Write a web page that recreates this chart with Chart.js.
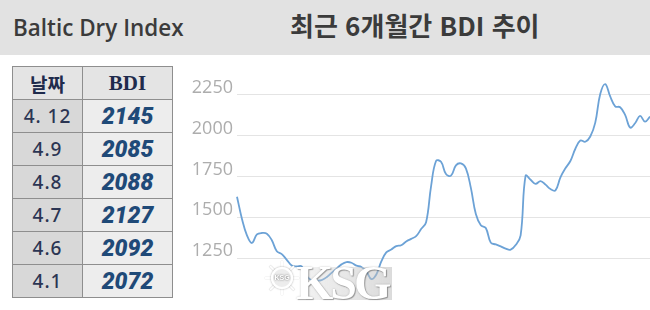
<!DOCTYPE html>
<html lang="ko">
<head>
<meta charset="UTF-8">
<title>최근 6개월간 BDI 추이</title>
<script src="https://cdn.jsdelivr.net/npm/chart.js"></script>
<style>
    body { margin: 0; width: 650px; height: 310px; background: #fff; position: relative; overflow: hidden; }
    .band { position: absolute; left: 0; top: 0; width: 650px; height: 55px; background: #e2e2e2; }
    .title-left { position: absolute; left: 13px; top: 10px; font: 600 24px "Open Sans", sans-serif; color: #3b3b3b; transform-origin: left top; transform: scaleX(0.935); white-space: nowrap; }
    .title-right { position: absolute; left: 290px; top: 6px; font: bold 26px "Noto Sans CJK KR", sans-serif; color: #3b3b3b; white-space: nowrap; }
    table { position: absolute; left: 12px; top: 66px; border-collapse: collapse; }
    td, th { border: 1px solid #8e8e8e; height: 32px; padding: 0; text-align: center; }
    th { background: #e4e4e4; color: #1f2b4c; font-size: 19px; }
    th.d { width: 69px; font-family: "Noto Sans CJK KR", sans-serif; font-weight: bold; }
    th.v { width: 89px; font-family: "Liberation Serif", serif; font-weight: bold; font-size: 21px; }
    td.d { background: #d8d8d8; color: #2b3553; font: 500 19px "Noto Sans", sans-serif; letter-spacing: 1px; }
    td.v { background: #ededed; color: #1f4a78; font: italic 900 23px Roboto, sans-serif; }
    #wrap { position: absolute; left: 180px; top: 54px; width: 470px; height: 256px; }
    .markbox { position: absolute; left: 306px; top: 267px; width: 86px; height: 33px; background: linear-gradient(90deg, rgba(215,215,215,0.35), rgba(190,190,190,0.55)); }
    .mark { position: absolute; left: 296px; top: 255px; font: bold 48px "Liberation Serif", serif; color: #fff; text-shadow: 1px 1px 1px rgba(0,0,0,0.3), 0 0 2px rgba(0,0,0,0.25); letter-spacing: -3px; }
    .wheel { position: absolute; left: 265px; top: 261px; width: 34px; height: 34px; }
    .spoke { position: absolute; left: 0; top: 16px; width: 34px; height: 2px; background: #fff; box-shadow: 0 0 1px rgba(0,0,0,0.35); }
    .hub { position: absolute; left: 6px; top: 6px; width: 18px; height: 18px; border-radius: 50%; border: 2px solid #fff; background: rgba(235,235,235,0.9); box-shadow: 0 0 2px rgba(0,0,0,0.4); font: bold 7px sans-serif; color: #fff; text-align: center; line-height: 18px; text-shadow: 0 0 2px rgba(0,0,0,0.6); }
</style>
</head>
<body>
<div class="band"></div>
<div class="title-left">Baltic Dry Index</div>
<div class="title-right">최근 6개월간 BDI 추이</div>
<table id="tbl"></table>
<div id="wrap"><canvas id="bdiChart"></canvas></div>
<div class="wheel">
    <div class="spoke"></div>
    <div class="spoke" style="transform: rotate(45deg)"></div>
    <div class="spoke" style="transform: rotate(90deg)"></div>
    <div class="spoke" style="transform: rotate(135deg)"></div>
    <div class="hub">KSG</div>
</div>
<div class="markbox"></div>
<div class="mark">KSG</div>
<script>
    // table values
    const dates = ['4. 12', '4.9', '4.8', '4.7', '4.6', '4.1'];
    const bdiValues = [2145, 2085, 2088, 2127, 2092, 2072];

    // 6-month trend
    const trend = [
        1626, 1490, 1390, 1343, 1395, 1404, 1400, 1360, 1292, 1275,
        1240, 1205, 1200, 1200, 1140, 1115, 1113, 1116, 1133, 1160,
        1186, 1212, 1226, 1222, 1204, 1196, 1170, 1122, 1150, 1230,
        1285, 1303, 1324, 1329, 1352, 1368, 1385, 1428, 1470, 1690,
        1845, 1840, 1765, 1755, 1818, 1830, 1800, 1680, 1520, 1452,
        1435, 1345, 1334, 1322, 1308, 1302, 1330, 1390, 1755, 1730,
        1705, 1722, 1700, 1673, 1665, 1745, 1800, 1845, 1920, 1970,
        1963, 1995, 2080, 2255, 2316, 2240, 2180, 2174, 2127, 2050,
        2076, 2121, 2086, 2117
    ];
    const days = trend.map((v, i) => i + 1);
    const yTicks = [1250, 1500, 1750, 2000, 2250];

    // build table
    let html = '<tr><th class="d">날짜</th><th class="v">BDI</th></tr>';
    dates.forEach((d, i) => {
        html += '<tr><td class="d">' + d + '</td><td class="v">' + bdiValues[i] + '</td></tr>';
    });
    document.getElementById('tbl').innerHTML = html;

    const ctx = document.getElementById('bdiChart').getContext('2d');
    new Chart(ctx, {
        type: 'line',
        data: {
            labels: days,
            datasets: [{
                data: trend,
                borderColor: 'rgb(108, 162, 214)',
                borderWidth: 1.8,
                pointRadius: 0,
                tension: 0.4,
                fill: false
            }]
        },
        options: {
            responsive: true,
            maintainAspectRatio: false,
            animation: false,
            layout: { padding: { top: 0, bottom: 11, left: 0, right: 0 } },
            plugins: { legend: { display: false }, tooltip: { enabled: false } },
            scales: {
                x: { display: false },
                y: {
                    min: 1000,
                    max: 2500,
                    afterBuildTicks: (scale) => { scale.ticks = yTicks.map(v => ({ value: v })); },
                    afterFit: (scale) => {
                        scale.width = 57;
                        scale.paddingTop = 0;
                        scale.paddingBottom = 0;
                    },
                    border: { display: false },
                    grid: { color: '#e4e4e4', lineWidth: 1, drawTicks: false },
                    ticks: {
                        color: '#adadad',
                        font: { family: 'Open Sans', size: 18 },
                        padding: 4,
                        labelOffset: -7,
                        callback: (v) => String(v)
                    }
                }
            }
        }
    });
</script>
</body>
</html>
